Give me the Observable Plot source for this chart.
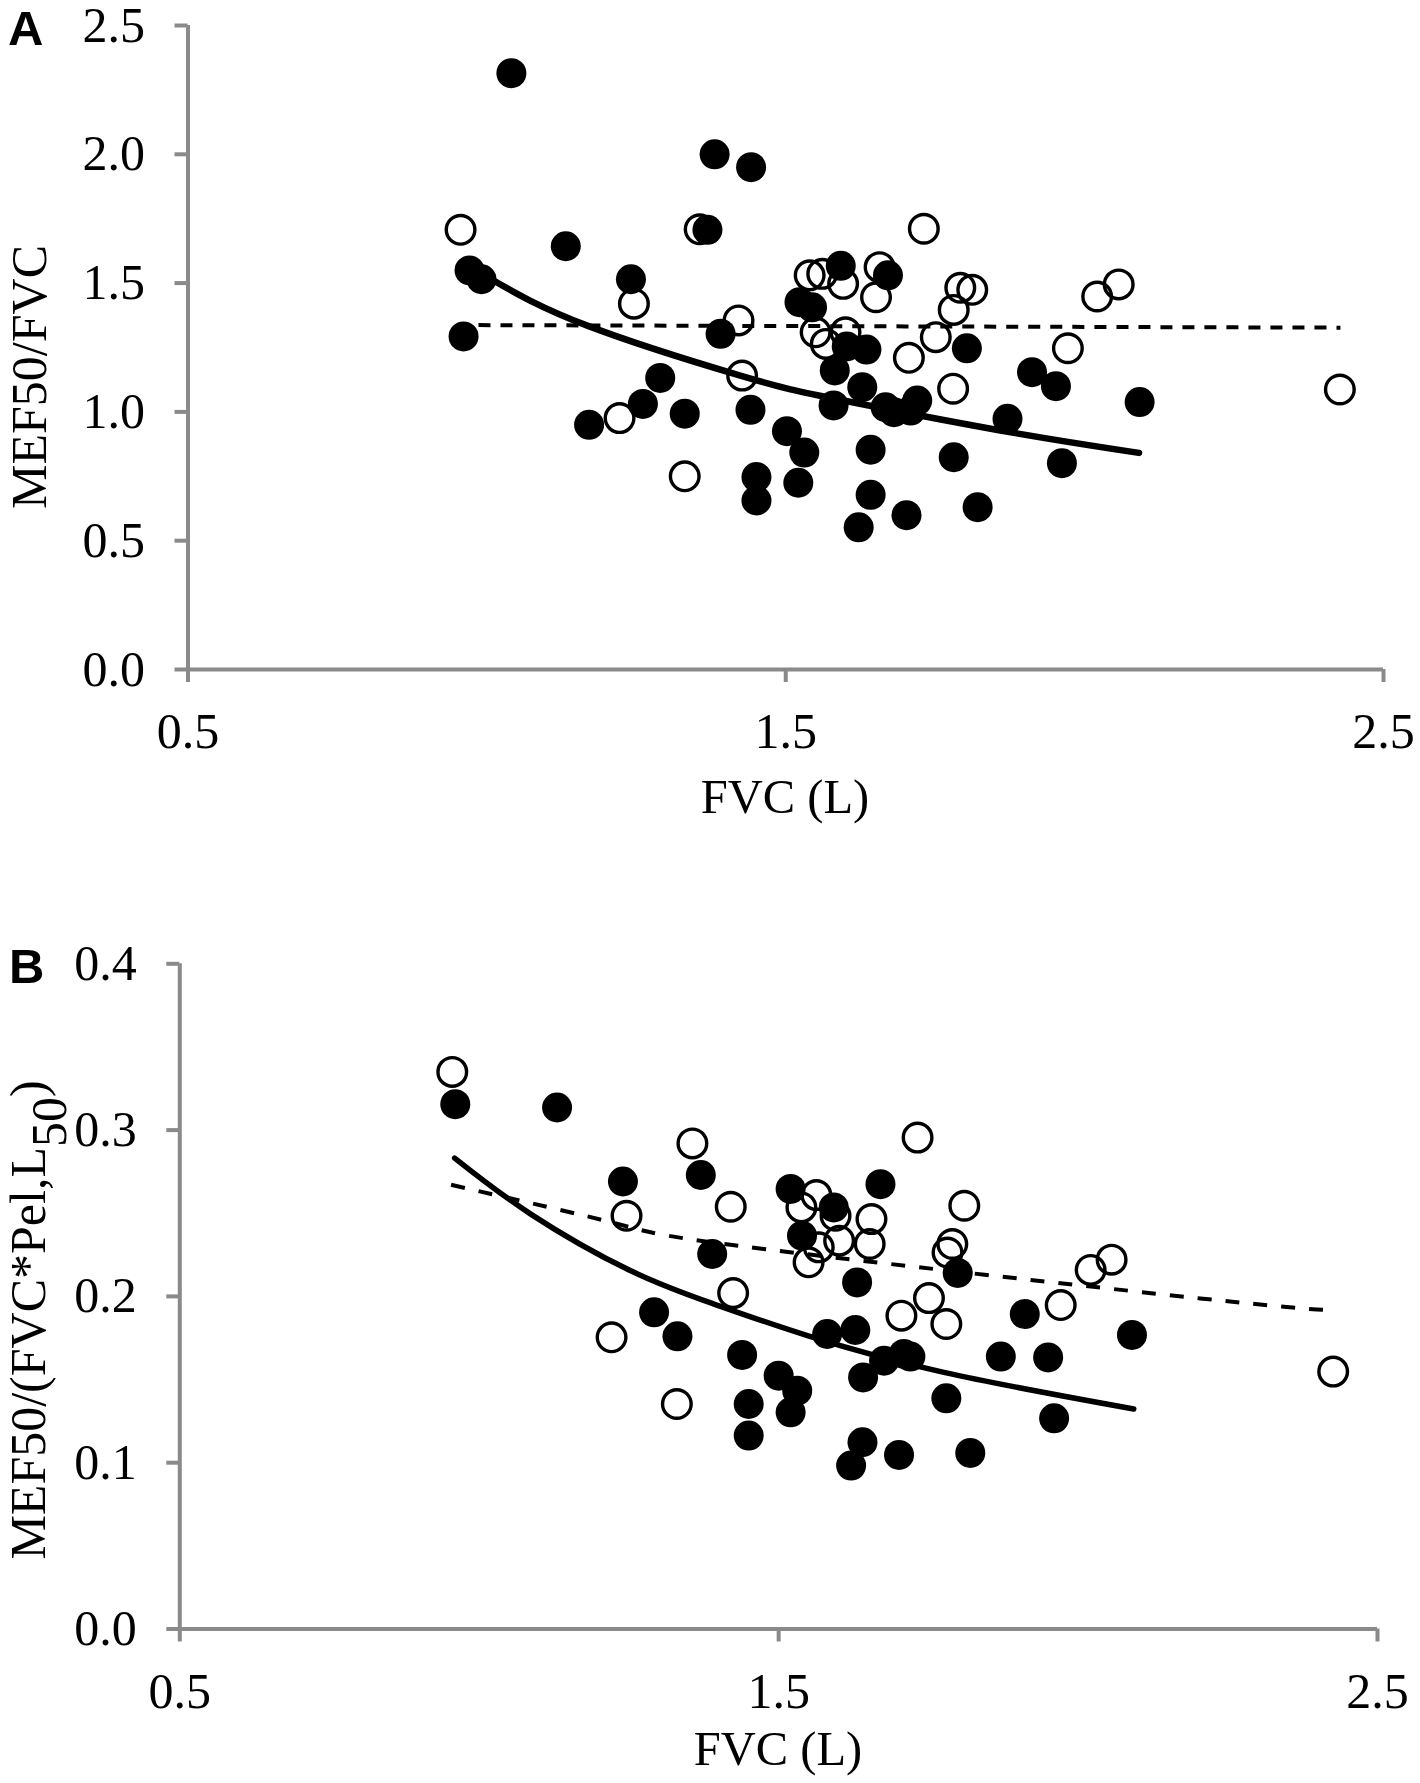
<!DOCTYPE html>
<html><head><meta charset="utf-8">
<script src="https://cdn.jsdelivr.net/npm/d3@7"></script>
<script src="https://cdn.jsdelivr.net/npm/@observablehq/plot@0.6"></script>
<style>
html,body{margin:0;padding:0;background:#fff;}
#fig{position:relative;width:1420px;height:1783px;overflow:hidden;background:#fff;}
#fig svg{position:absolute;left:0;}
</style></head><body><div id="fig"></div>
<script>
// ---------- data ----------
const xTicks = [0.5, 1.5, 2.5];
const yTicksA = [0, 0.5, 1.0, 1.5, 2.0, 2.5];
const yTicksB = [0, 0.1, 0.2, 0.3, 0.4];

// Panel A: MEF50/FVC vs FVC (L)
const filledA = [
  [1.041,2.315],[1.381,2.000],[1.442,1.950],[1.369,1.707],[1.132,1.643],
  [0.971,1.549],[0.991,1.515],[1.241,1.515],[0.961,1.293],[1.391,1.303],
  [1.290,1.132],[1.261,1.031],[1.171,0.950],[1.331,0.993],[1.441,1.008],
  [1.502,0.925],[1.531,0.842],[1.451,0.747],[1.451,0.656],[1.521,0.725],
  [1.642,0.853],[1.642,0.678],[1.622,0.552],[1.702,0.599],[1.592,1.567],
  [1.671,1.530],[1.523,1.426],[1.544,1.406],[1.602,1.254],[1.635,1.242],
  [1.582,1.161],[1.628,1.096],[1.580,1.025],[1.667,1.018],[1.681,0.999],
  [1.720,1.044],[1.709,1.005],[1.803,1.247],[1.912,1.154],[1.952,1.100],
  [2.092,1.038],[1.871,0.973],[1.781,0.824],[1.962,0.801],[1.821,0.630]
];
const openA = [
  [0.956,1.707],[1.356,1.709],[1.246,1.420],[1.421,1.355],[1.427,1.141],
  [1.222,0.976],[1.331,0.750],[1.540,1.530],[1.561,1.536],[1.596,1.497],
  [1.657,1.562],[1.651,1.445],[1.731,1.711],[1.550,1.309],[1.567,1.264],
  [1.600,1.309],[1.706,1.210],[1.751,1.290],[1.780,1.090],[1.792,1.482],
  [1.812,1.474],[1.781,1.396],[1.972,1.247],[2.021,1.448],[2.057,1.495],
  [2.427,1.087]
];
const solidA = [[1.006,1.517],[1.168,1.335],[1.424,1.141],[1.580,1.052],[1.859,0.928],[2.091,0.841]];
const dashedA = [[0.986,1.337],[1.700,1.332],[2.428,1.327]];

// Panel B: MEF50/(FVC*Pel,L50) vs FVC (L)
const filledB = [
  [0.960,0.3156],[1.130,0.3136],[1.240,0.2691],[1.370,0.2730],[1.389,0.2255],
  [1.520,0.2646],[1.592,0.2535],[1.539,0.2365],[1.670,0.2675],[1.631,0.2084],
  [1.292,0.1904],[1.331,0.1760],[1.439,0.1648],[1.500,0.1523],[1.531,0.1433],
  [1.450,0.1353],[1.520,0.1303],[1.450,0.1163],[1.581,0.1774],[1.628,0.1798],
  [1.676,0.1613],[1.709,0.1654],[1.720,0.1638],[1.641,0.1513],[1.640,0.1123],
  [1.621,0.0983],[1.701,0.1047],[1.799,0.2141],[1.911,0.1894],[1.871,0.1638],
  [1.950,0.1633],[2.090,0.1768],[1.780,0.1387],[1.960,0.1267],[1.820,0.1059]
];
const openB = [
  [0.955,0.3350],[1.356,0.2920],[1.246,0.2485],[1.420,0.2539],[1.424,0.2020],
  [1.221,0.1754],[1.330,0.1353],[1.563,0.2609],[1.538,0.2535],[1.595,0.2485],
  [1.601,0.2335],[1.550,0.2205],[1.567,0.2295],[1.655,0.2465],[1.652,0.2315],
  [1.732,0.2955],[1.751,0.1990],[1.705,0.1884],[1.810,0.2545],[1.790,0.2315],
  [1.782,0.2264],[1.780,0.1834],[1.971,0.1948],[2.021,0.2159],[2.056,0.2221],
  [2.426,0.1548]
];
const solidB = [[0.959,0.2832],[1.086,0.2495],[1.253,0.2154],[1.392,0.1954],[1.548,0.1764],[1.776,0.1543],[2.093,0.1323]];
const dashedB = [[0.953,0.2671],[1.230,0.2437],[1.475,0.2285],[2.204,0.1988],[2.426,0.1920]];

// ---------- drawing ----------
const AXIS = "#8a8a8a";
const SERIF = "'Liberation Serif','Times New Roman',serif";
const fig = document.getElementById("fig");

function panel(o) {
  const svg = Plot.plot({
    width: 1420, height: o.height,
    marginLeft: o.ml, marginRight: o.mr, marginTop: o.mt, marginBottom: o.mb,
    style: {fontFamily: SERIF, fontSize: "50px", background: "white", color: "black", overflow: "visible"},
    x: {domain: [0.5, 2.5], label: null},
    y: {domain: o.yDomain, label: null},
    marks: [
      Plot.axisX({ticks: xTicks, tickFormat: d3.format(".1f"), tickSize: 13, tickPadding: 30,
                  stroke: AXIS, strokeWidth: 4, fill: "black", fontSize: 50, label: null}),
      Plot.axisY({ticks: o.yTicks, tickFormat: d3.format(".1f"), tickSize: 13, tickPadding: 30,
                  stroke: AXIS, strokeWidth: 4, fill: "black", fontSize: 50, label: null}),
      Plot.ruleX([0.5], {stroke: AXIS, strokeWidth: 4}),
      Plot.ruleY([0], {stroke: AXIS, strokeWidth: 4, x1: 0.5, x2: 2.5}),
      Plot.dot(o.open, {x: d => d[0], y: d => d[1], r: 14.3, fill: "none", stroke: "black", strokeWidth: 3.4}),
      Plot.dot(o.filled, {x: d => d[0], y: d => d[1], r: 15, fill: "black", stroke: "none"}),
      Plot.line(o.dashed, {x: d => d[0], y: d => d[1], curve: "natural", stroke: "black",
                           strokeWidth: 4, strokeDasharray: o.dash, strokeLinecap: "butt"}),
      Plot.line(o.solid, {x: d => d[0], y: d => d[1], curve: "natural", stroke: "black",
                          strokeWidth: o.solidW, strokeLinecap: "round"})
    ]
  });
  svg.style.top = o.top + "px";
  fig.appendChild(svg);
  const s = d3.select(svg);
  // panel letter
  s.append("text").attr("x", o.letterX).attr("y", o.letterY).attr("text-anchor", "start")
    .attr("font-family", "'Liberation Sans',Arial,sans-serif").attr("font-weight", "bold")
    .attr("font-size", 49).attr("fill", "black").text(o.letter);
  // x label
  s.append("text").attr("x", o.xlabX).attr("y", o.xlabY).attr("text-anchor", "middle")
    .attr("font-family", SERIF).attr("font-size", 48.5).attr("fill", "black").text("FVC (L)");
  // y label
  const yl = s.append("text")
    .attr("transform", `translate(${o.ylabX},${o.ylabY}) rotate(-90)`)
    .attr("text-anchor", "middle").attr("font-family", SERIF).attr("font-size", 50).attr("fill", "black");
  o.ylab(yl);
}

panel({
  top: 0, height: 880, ml: 187.5, mr: 37, mt: 25, mb: 211,
  yDomain: [0, 2.5], yTicks: yTicksA,
  filled: filledA, open: openA, solid: solidA, dashed: dashedA,
  dash: "12,10", solidW: 6.5,
  letter: "A", letterX: 8, letterY: 45,
  xlabX: 785, xlabY: 813,
  ylabX: 46, ylabY: 377,
  ylab: t => t.text("MEF50/FVC")
});

panel({
  top: 900, height: 883, ml: 179.3, mr: 43, mt: 63.3, mb: 154.5,
  yDomain: [0, 0.4], yTicks: yTicksB,
  filled: filledB, open: openB, solid: solidB, dashed: dashedB,
  dash: "14,14", solidW: 5.5,
  letter: "B", letterX: 9, letterY: 83,
  xlabX: 778, xlabY: 865,
  ylabX: 45, ylabY: 420,
  ylab: t => {
    t.append("tspan").text("MEF50/(FVC*Pel,L");
    t.append("tspan").attr("dy", "0.42em").text("50");
    t.append("tspan").attr("dy", "-0.42em").text(")");
  }
});
</script>
</body></html>
